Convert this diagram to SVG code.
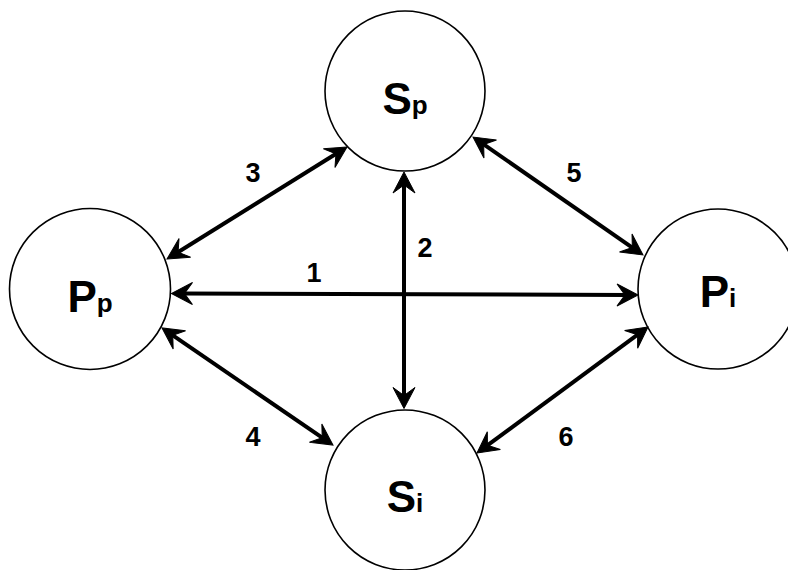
<svg xmlns="http://www.w3.org/2000/svg" width="788" height="570" viewBox="0 0 788 570">
<style>
.node{fill:#fff;stroke:#000;stroke-width:1.6}
.lbl{font-family:"Liberation Sans",Arial,sans-serif;font-weight:bold;fill:#000;text-anchor:middle}
.big{font-size:44px}
.sub{font-size:26px}
.edge{fill:none;stroke:#000;stroke-width:4;marker-start:url(#ah);marker-end:url(#ah)}
.elbl{font-family:"Liberation Sans",Arial,sans-serif;font-weight:bold;font-size:27px;fill:#000;text-anchor:middle}
</style>
<defs>
<marker id="ah" markerUnits="userSpaceOnUse" orient="auto-start-reverse" refX="0" refY="0" markerWidth="30" markerHeight="30" overflow="visible">
<path d="M10,0 L-11,-11 L-3,0 L-11,11 Z" fill="#000" stroke="#000" stroke-width="1" stroke-linejoin="miter"/>
</marker>
</defs>
<rect width="788" height="570" fill="#fff"/>
<g id="node-Sp"><circle class="node" cx="405" cy="91" r="80"/><text class="lbl" x="405" y="114"><tspan class="big">S</tspan><tspan class="sub">p</tspan></text></g>
<g id="node-Pp"><circle class="node" cx="90" cy="289" r="80.5"/><text class="lbl" x="90" y="312"><tspan class="big">P</tspan><tspan class="sub">p</tspan></text></g>
<g id="node-Pi"><circle class="node" cx="718" cy="289" r="80"/><text class="lbl" x="718" y="307"><tspan class="big">P</tspan><tspan class="sub">i</tspan></text></g>
<g id="node-Si"><circle class="node" cx="405" cy="490" r="80"/><text class="lbl" x="405" y="512"><tspan class="big">S</tspan><tspan class="sub">i</tspan></text></g>
<g id="connectors">
<line class="edge" x1="181.5" y1="293.5" x2="628" y2="295"/>
<line class="edge" x1="404" y1="182" x2="404" y2="398.5"/>
<line class="edge" x1="175.5" y1="253.7" x2="338.5" y2="152.3"/>
<line class="edge" x1="481.2" y1="142.7" x2="634.8" y2="249.3"/>
<line class="edge" x1="170.3" y1="333.6" x2="324.7" y2="439.4"/>
<line class="edge" x1="640" y1="332.9" x2="485" y2="447.1"/>
<text class="elbl" x="314" y="282">1</text>
<text class="elbl" x="425" y="257">2</text>
<text class="elbl" x="253" y="182">3</text>
<text class="elbl" x="253" y="446">4</text>
<text class="elbl" x="574" y="182">5</text>
<text class="elbl" x="566" y="446">6</text>
</g>
</svg>
